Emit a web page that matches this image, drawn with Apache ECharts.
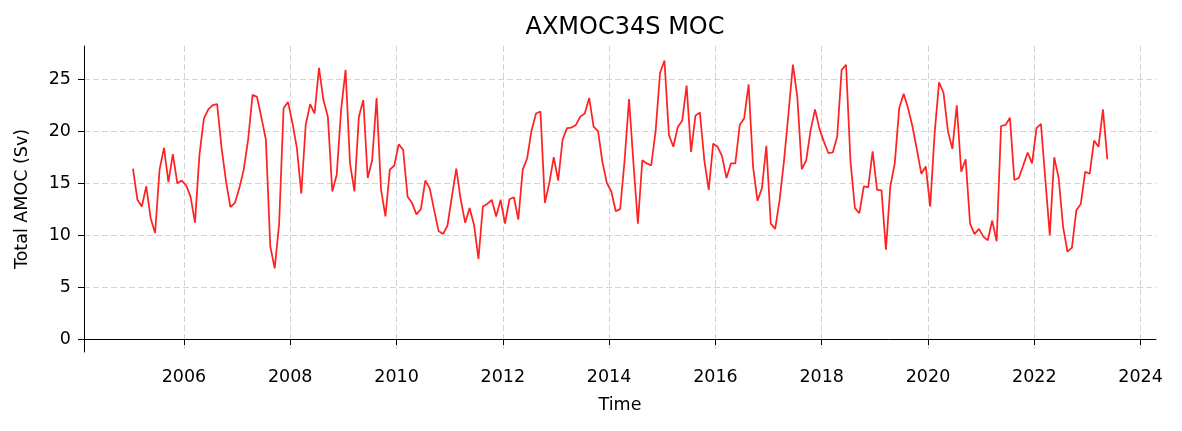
<!DOCTYPE html>
<html>
<head>
<meta charset="utf-8">
<script src="https://cdn.jsdelivr.net/npm/echarts@6/dist/echarts.min.js"></script>
<style>
  html, body { margin: 0; padding: 0; background: #fff; }
  #chart { width: 1182px; height: 431px; }
</style>
</head>
<body>
<div id="chart"></div>
<script>
// monthly series, first value is Jan 2005
var startYear = 2005
var amocValues = [
  16.4, 13.4, 12.75, 14.7, 11.6, 10.2, 16.3, 18.4, 15.1, 17.8, 15.0, 15.25,
  14.8, 13.7, 11.2, 17.7, 21.2, 22.1, 22.5, 22.6, 18.4, 15.2, 12.7, 13.1,
  14.5, 16.3, 19.2, 23.5, 23.3, 21.3, 19.2, 8.9, 6.8, 11.1, 22.2, 22.8,
  20.8, 18.4, 14.0, 20.6, 22.6, 21.7, 26.1, 23.0, 21.4, 14.2, 15.8, 22.1,
  25.9, 16.9, 14.2, 21.4, 23.0, 15.5, 17.2, 23.2, 14.4, 11.8, 16.3, 16.7,
  18.75, 18.2, 13.7, 13.1, 12.0, 12.5, 15.25, 14.5, 12.4, 10.4, 10.1, 10.9,
  13.7, 16.4, 13.4, 11.2, 12.6, 11.0, 7.7, 12.75, 13.0, 13.4, 11.8, 13.4,
  11.1, 13.45, 13.65, 11.5, 16.3, 17.4, 20.1, 21.7, 21.9, 13.1, 15.0, 17.5,
  15.25, 19.2, 20.3, 20.35, 20.6, 21.4, 21.7, 23.2, 20.45, 20.0, 17.0, 15.0,
  14.2, 12.3, 12.5, 17.2, 23.1, 16.9, 11.1, 17.2, 16.9, 16.7, 20.0, 25.6,
  26.8, 19.65, 18.5, 20.4, 21.0, 24.4, 18.0, 21.5, 21.8, 17.2, 14.35, 18.8,
  18.5, 17.6, 15.5, 16.9, 16.9, 20.6, 21.25, 24.5, 16.6, 13.3, 14.5, 18.6,
  11.1, 10.6, 13.4, 17.2, 21.7, 26.4, 23.3, 16.35, 17.2, 20.1, 22.1, 20.2,
  19.0, 17.9, 17.95, 19.5, 25.9, 26.4, 17.1, 12.6, 12.1, 14.7, 14.6, 18.05,
  14.35, 14.3, 8.6, 14.7, 16.9, 22.2, 23.6, 22.2, 20.45, 18.2, 15.9, 16.6,
  12.75, 19.8, 24.7, 23.7, 20.0, 18.3, 22.5, 16.1, 17.3, 11.1, 10.1, 10.6,
  9.85, 9.5, 11.4, 9.4, 20.5, 20.6, 21.3, 15.3, 15.5, 16.7, 17.95, 16.9,
  20.3, 20.7, 15.3, 10.0, 17.5, 15.5, 10.8, 8.4, 8.8, 12.4, 13.0, 16.1,
  15.9, 19.1, 18.5, 22.1, 17.3
]
var xTickYears = [2006, 2008, 2010, 2012, 2014, 2016, 2018, 2020, 2022, 2024]
var yTickValues = [0, 5, 10, 15, 20, 25]

// month index -> decimal year (middle of month)
var seriesData = amocValues.map(function (v, i) {
  var yr = startYear + Math.floor(i / 12)
  var m = i % 12
  return [yr + (m + 0.5) / 12, v]
})

var chart = echarts.init(document.getElementById('chart'))
var font = 'DejaVu Sans'
var gridLine = { show: true, lineStyle: { color: '#d3d3d3', type: [6, 3], width: 1 } }

var option = {
  animation: false,
  title: {
    text: 'AXMOC34S MOC',
    left: 620,
    textAlign: 'center',
    top: 11,
    textStyle: { fontFamily: font, fontSize: 24, fontWeight: 'normal', color: '#000' }
  },
  grid: { left: 84, right: 26, top: 46, bottom: 79 },
  xAxis: {
    type: 'value',
    min: 2004.12,
    max: 2024.29,
    name: 'Time',
    nameLocation: 'middle',
    nameGap: 44,
    nameTextStyle: { fontFamily: font, fontSize: 17.5, color: '#000' },
    axisLine: { show: true, lineStyle: { color: '#000', width: 1 } },
    axisTick: { show: true, length: 6, lineStyle: { color: '#000' }, customValues: xTickYears },
    axisLabel: {
      fontFamily: font, fontSize: 17.5, color: '#000', margin: 16,
      customValues: xTickYears,
      formatter: function (v) { return String(Math.round(v)) }
    },
    splitLine: gridLine
  },
  yAxis: {
    type: 'value',
    min: -1.25,
    max: 28.2,
    name: 'Total AMOC (Sv)',
    nameLocation: 'middle',
    nameGap: 53,
    nameTextStyle: { fontFamily: font, fontSize: 17.5, color: '#000' },
    axisLine: { show: true, lineStyle: { color: '#000', width: 1 } },
    axisTick: { show: true, length: 6, lineStyle: { color: '#000' }, customValues: yTickValues },
    axisLabel: {
      fontFamily: font, fontSize: 17.5, color: '#000', margin: 13,
      customValues: yTickValues,
      formatter: function (v) { return String(Math.round(v)) }
    },
    splitLine: gridLine
  },
  series: [{
    type: 'line',
    data: seriesData,
    showSymbol: false,
    symbol: 'none',
    lineStyle: { color: '#ff2222', width: 1.75 },
    itemStyle: { color: '#ff2222' },
    markLine: {
      silent: true,
      symbol: 'none',
      label: { show: false },
      lineStyle: { color: '#000', type: [3, 2], width: 0.8 },
      data: [{ yAxis: 0 }]
    }
  }]
}
chart.setOption(option)
</script>
</body>
</html>
